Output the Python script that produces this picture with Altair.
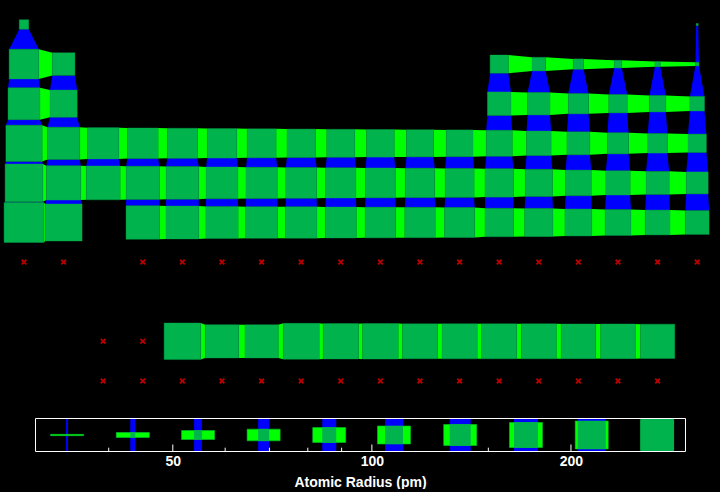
import math
import altair as alt
import pandas as pd

# Atomic radius (pm) by table row: (row, first column, radii)
row_h = (0, 0, [53])
row_he = (0, 17, [31])
row_li = (1, 0, [167, 112])
row_b = (1, 12, [87, 67, 56, 48, 42, 38])
row_na = (2, 0, [190, 145])
row_al = (2, 12, [118, 111, 98, 88, 79, 71])
row_k = (3, 0, [243, 194, 184, 176, 171, 166, 161, 156, 152, 149, 145, 142, 136, 125, 114, 103, 94, 88])
row_rb = (4, 0, [265, 219, 212, 206, 198, 190, 183, 178, 173, 169, 165, 161, 156, 145, 133, 123, 115, 108])
row_cs = (5, 0, [298, 253])
row_hf = (5, 3, [208, 200, 193, 188, 185, 180, 177, 174, 171, 156, 154, 143, 135, 127, 120])
row_ln = (8, 4, [247, 206, 205, 238, 231, 233, 225, 228, 226, 226, 222, 222, 217])
blocks = [row_h, row_he, row_li, row_b, row_na, row_al, row_k, row_rb, row_cs, row_hf, row_ln]

# Elements with no radius: (row, columns)
missing_blocks = [
    (6, [0, 1, 3, 4, 5, 6, 7, 8, 9, 10, 11, 12, 13, 14, 15, 16, 17]),
    (8, [2, 3]),
    (9, [2, 3, 4, 5, 6, 7, 8, 9, 10, 11, 12, 13, 14, 15, 16]),
]

# Legend
legend_values = [34.6, 43.5, 54.6, 68.6, 86.2, 108, 136, 171, 215, 270]
legend_v_width = [2, 5, 8, 11, 14, 18, 21, 24, 28, 33]
legend_h_height = [1.3, 5, 9, 11.7, 15, 18, 21, 25, 28, 31]
legend_ticks_minor = [40, 60, 70, 80, 90, 150]
legend_ticks_major = [50, 100, 200]
legend_extent = [31, 298]

GREEN = "#00b34c"
LIME = "#00ff00"
BLUE = "#0000ff"
STEP = 39.6
W, H = 720, 452
X0, Y0 = 24, 24.5
LEFT = 35.5
LW, LH = 650, 33
PX_PER_OCTAVE = LW / math.log2(legend_extent[1] / legend_extent[0])


def size_px(r):
    return max(2, 12.2 * math.log2(r / 31))


cells = {}
for row, start, radii in blocks:
    for i, r in enumerate(radii):
        cells[(row, start + i)] = r

cell_rows, h_rows, v_rows = [], [], []
for (row, col), r in cells.items():
    h = size_px(r) / 2 / STEP
    cell_rows.append(dict(x=col - h, x2=col + h, y=row - h, y2=row + h))
    if (row, col + 1) in cells:
        h2 = size_px(cells[(row, col + 1)]) / 2 / STEP
        link = f"{row}-{col}"
        h_rows.append(dict(link=link, x=col + h, y=row - h, y2=row + h))
        h_rows.append(dict(link=link, x=col + 1 - h2, y=row - h2, y2=row + h2))
    if (row + 1, col) in cells:
        h2 = size_px(cells[(row + 1, col)]) / 2 / STEP
        link = f"{row}-{col}"
        v_rows.append(dict(link=link, y=row + h, x=col - h, x2=col + h))
        v_rows.append(dict(link=link, y=row + 1 - h2, x=col - h2, x2=col + h2))

missing = pd.DataFrame([dict(col=c, row=row) for row, cols in missing_blocks for c in cols])

xs = alt.Scale(domain=[-X0 / STEP, (W - X0) / STEP], zero=False, nice=False)
ys = alt.Scale(domain=[-Y0 / STEP, (H - Y0) / STEP], zero=False, nice=False, reverse=True)
X = lambda f: alt.X(f, type="quantitative", scale=xs, axis=None)
Y = lambda f: alt.Y(f, type="quantitative", scale=ys, axis=None)

v_links = alt.Chart(pd.DataFrame(v_rows)).mark_area(orient="horizontal", color=BLUE).encode(
    y=Y("y"), x=X("x"), x2="x2", detail="link:N")
h_links = alt.Chart(pd.DataFrame(h_rows)).mark_area(orient="vertical", color=LIME).encode(
    x=X("x"), y=Y("y"), y2="y2", detail="link:N")
squares = alt.Chart(pd.DataFrame(cell_rows)).mark_rect(color=GREEN, stroke="#00a84c", strokeWidth=0.4).encode(
    x=X("x"), x2="x2", y=Y("y"), y2="y2")
crosses = alt.Chart(missing).mark_point(
    shape="M-1,-1L1,1M-1,1L1,-1", filled=False, size=22, strokeWidth=1.8, color="#b80000", opacity=1
).encode(x=X("col"), y=Y("row"))
table = alt.layer(v_links, h_links, squares, crosses)


def shift(v, px):
    return v * 2 ** (px / PX_PER_OCTAVE)


BASE = 0.5  # legend frame bottom above the plot bottom
leg_rows = []
for v, w, h in zip(legend_values, legend_v_width, legend_h_height):
    leg_rows.append(dict(
        bx=shift(v, -w / 2), bx2=shift(v, w / 2), by=BASE, by2=BASE + LH,
        lx=shift(v, -16.5), lx2=shift(v, 16.5),
        ly=BASE + LH / 2 - h / 2, ly2=BASE + LH / 2 + h / 2,
    ))
leg = pd.DataFrame(leg_rows)
tick_df = pd.DataFrame(
    [dict(v=v, t=BASE, t2=BASE + 3.8) for v in legend_ticks_minor]
    + [dict(v=v, t=BASE, t2=BASE + 7) for v in legend_ticks_major]
)
frame = pd.DataFrame([dict(x=legend_extent[0], x2=legend_extent[1], y=BASE, y2=BASE + LH)])

ls = alt.Scale(
    type="log",
    domain=[shift(legend_extent[0], -LEFT), shift(legend_extent[0], W - LEFT)],
    nice=False,
)
lys = alt.Scale(domain=[0, H], nice=False, zero=False)
LY = lambda f: alt.Y(f, type="quantitative", scale=lys, axis=None)

leg_axis = alt.Axis(
    values=legend_ticks_major, format="d", tickSize=0, domain=False, grid=False,
    labelColor="white", labelFont="Liberation Sans", labelFontSize=14, labelFontWeight="bold",
    labelPadding=2, title="Atomic Radius (pm)", titleColor="white", titleFont="Liberation Sans",
    titleFontSize=14, titleFontWeight="bold", titlePadding=7,
)
LX = lambda f: alt.X(f, type="quantitative", scale=ls, axis=leg_axis)
lb = alt.Chart(leg).mark_rect(color=BLUE).encode(x=LX("bx"), x2="bx2", y=LY("by"), y2="by2")
ll = alt.Chart(leg).mark_rect(color=LIME, stroke="#00c030", strokeWidth=0.6).encode(
    x=LX("lx"), x2="lx2", y=LY("ly"), y2="ly2")
# overlap of the two bars
overlap = alt.Chart(leg).mark_rect(color=GREEN).encode(
    x=LX("bx"), x2="bx2", y=LY("ly"), y2="ly2")
tk = alt.Chart(tick_df).mark_rule(color="white", strokeWidth=1).encode(
    x=LX("v"), y=LY("t"), y2="t2")
box = alt.Chart(frame).mark_rect(fill=None, filled=False, stroke="white", strokeWidth=1).encode(
    x=LX("x"), x2="x2", y=LY("y"), y2="y2")
legend = alt.layer(lb, ll, overlap, tk, box)

chart = alt.layer(table, legend).resolve_scale(x="independent", y="independent").properties(
    width=W, height=H, background="black", padding=0, view=alt.ViewConfig(stroke=None))

chart.save("out.html", embed_options={
    "renderer": "svg", "actions": False,
    "defaultStyle": "html,body{background:#000;margin:0;padding:0}svg{display:block}",
})
